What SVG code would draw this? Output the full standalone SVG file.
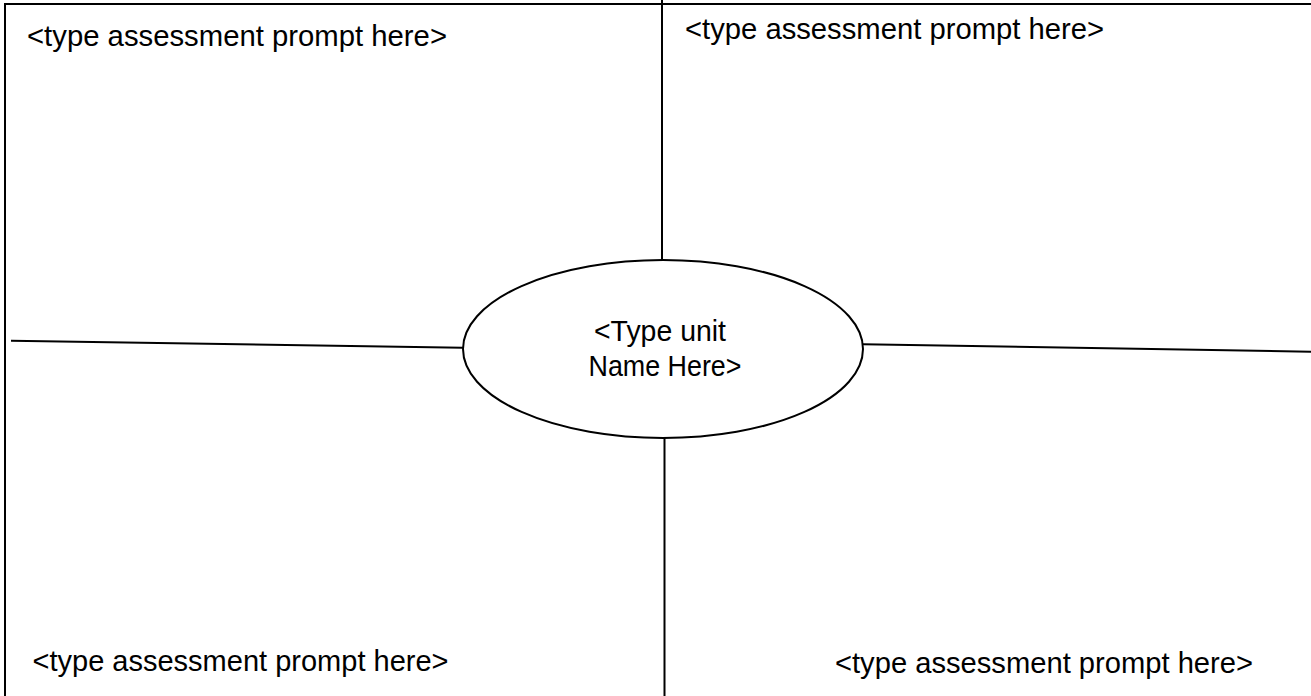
<svg xmlns="http://www.w3.org/2000/svg" width="1311" height="696" viewBox="0 0 1311 696">
<style>
.ln{stroke:#000;stroke-width:2;fill:none}
.t{font-family:"Liberation Sans",Arial,sans-serif;font-size:29px;fill:#000}
.c{text-anchor:middle}
</style>
<rect width="1311" height="696" fill="#fff"/>
<g id="connectors">
<line class="ln" x1="4" y1="4" x2="1311" y2="4"/>
<line class="ln" x1="5" y1="4" x2="5" y2="696"/>
<line class="ln" x1="662" y1="0" x2="662" y2="260"/>
<line class="ln" x1="664.5" y1="438" x2="664.5" y2="696"/>
<line class="ln" x1="11" y1="340.7" x2="463" y2="347.7"/>
<line class="ln" x1="863" y1="344.3" x2="1311" y2="351.7"/>
</g>
<g id="center">
<ellipse class="ln" cx="663" cy="349" rx="200" ry="89" fill="#fff"/>
<text class="t c" x="660" y="341" textLength="132" lengthAdjust="spacingAndGlyphs">&lt;Type unit</text>
<text class="t c" x="665" y="376" textLength="153" lengthAdjust="spacingAndGlyphs">Name Here&gt;</text>
</g>
<g id="prompt-tl"><text class="t" x="27" y="46" textLength="420" lengthAdjust="spacingAndGlyphs">&lt;type assessment prompt here&gt;</text></g>
<g id="prompt-tr"><text class="t" x="685" y="39" textLength="419" lengthAdjust="spacingAndGlyphs">&lt;type assessment prompt here&gt;</text></g>
<g id="prompt-bl"><text class="t" x="32.5" y="671" textLength="416" lengthAdjust="spacingAndGlyphs">&lt;type assessment prompt here&gt;</text></g>
<g id="prompt-br"><text class="t" x="835" y="673" textLength="418" lengthAdjust="spacingAndGlyphs">&lt;type assessment prompt here&gt;</text></g>
</svg>
